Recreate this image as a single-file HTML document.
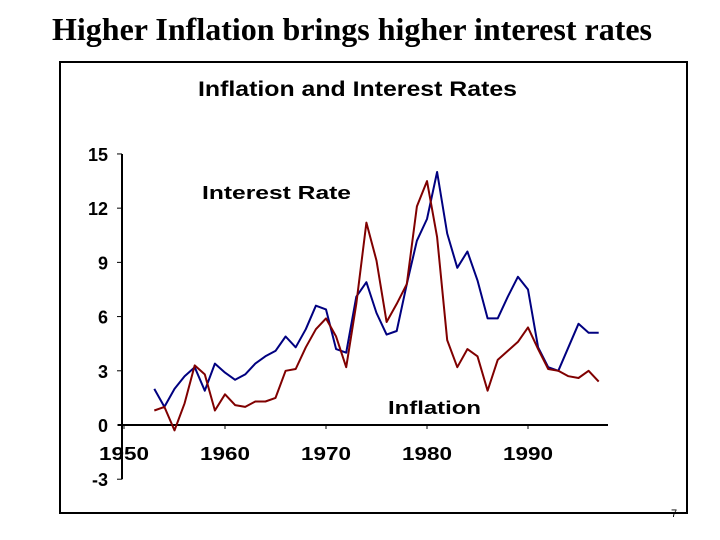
<!DOCTYPE html>
<html><head><meta charset="utf-8"><style>
html,body{margin:0;padding:0;background:#fff;}
body{width:720px;height:540px;position:relative;overflow:hidden;}
#title{position:absolute;left:0;width:704px;top:11px;text-align:center;font:bold 32px "Liberation Serif",serif;color:#000;}
#box{position:absolute;left:59px;top:61px;width:629px;height:453px;border:2px solid #000;box-sizing:border-box;}
#pg{position:absolute;left:671px;top:508px;font:11px "Liberation Sans",sans-serif;}
svg{position:absolute;left:0;top:0;}
</style></head><body>
<div id="title">Higher Inflation brings higher interest rates</div>
<div id="box"></div>
<div id="pg">7</div>
<svg id="chart" width="720" height="540"></svg>
<script>
const years=[1953,1954,1955,1956,1957,1958,1959,1960,1961,1962,1963,1964,1965,1966,1967,1968,1969,1970,1971,1972,1973,1974,1975,1976,1977,1978,1979,1980,1981,1982,1983,1984,1985,1986,1987,1988,1989,1990,1991,1992,1993,1994,1995,1996,1997];
const interestRate=[2.0,1.0,2.0,2.7,3.2,1.9,3.4,2.9,2.5,2.8,3.4,3.8,4.1,4.9,4.3,5.3,6.6,6.4,4.2,4.0,7.1,7.9,6.2,5.0,5.2,7.8,10.2,11.4,14.0,10.6,8.7,9.6,8.0,5.9,5.9,7.1,8.2,7.5,4.3,3.2,3.0,4.3,5.6,5.1,5.1];
const inflation=[0.8,1.0,-0.3,1.2,3.3,2.8,0.8,1.7,1.1,1.0,1.3,1.3,1.5,3.0,3.1,4.3,5.3,5.9,4.9,3.2,6.7,11.2,9.1,5.7,6.7,7.8,12.1,13.5,10.4,4.7,3.2,4.2,3.8,1.9,3.6,4.1,4.6,5.4,4.2,3.1,3.0,2.7,2.6,3.0,2.4];
const yTicks=[15,12,9,6,3,0,-3];
const xTicks=[1950,1960,1970,1980,1990];
const NS="http://www.w3.org/2000/svg";
const svg=document.getElementById('chart');
const X=y=>124+(y-1950)*10.1;
const Y=v=>425-v*18.07;
function mk(t,a){const e=document.createElementNS(NS,t);for(const k in a)e.setAttribute(k,a[k]);svg.appendChild(e);return e;}
const F='"Liberation Sans",Arial,sans-serif';
let e;
e=mk('text',{x:198,y:96,textLength:319,lengthAdjust:'spacingAndGlyphs','font-family':F,'font-weight':'bold','font-size':21});e.textContent='Inflation and Interest Rates';


e=mk('line',{x1:122,y1:Y(15),x2:122,y2:Y(-3),stroke:'#000','stroke-width':2});


e=mk('line',{x1:118,y1:Y(0),x2:608,y2:Y(0),stroke:'#000','stroke-width':2});


yTicks.forEach(v=>{
  e=mk('line',{x1:117,y1:Y(v),x2:122,y2:Y(v),stroke:'#000','stroke-width':1});
  
  
  e=mk('text',{x:108,y:Y(v)+7,'text-anchor':'end','font-family':F,'font-weight':'bold','font-size':18});e.textContent=v;
  
  
});
xTicks.forEach(v=>{
  e=mk('line',{x1:X(v),y1:Y(0),x2:X(v),y2:Y(0)+4,stroke:'#000','stroke-width':1});
  
  
  e=mk('text',{x:X(v)-25,y:Y(0)+35,textLength:50,lengthAdjust:'spacingAndGlyphs','font-family':F,'font-weight':'bold','font-size':18});e.textContent=v;
  
  
});
function line(vals,col,name){
  const d=vals.map((v,i)=>(i?'L':'M')+X(years[i]).toFixed(1)+','+Y(v).toFixed(1)).join(' ');
  const p=mk('path',{d:d,fill:'none',stroke:col,'stroke-width':2,'stroke-linejoin':'round'});
  
  
}
line(interestRate,'#000080','interest-rate-line');
line(inflation,'#800000','inflation-line');
e=mk('text',{x:202,y:199,textLength:149,lengthAdjust:'spacingAndGlyphs','font-family':F,'font-weight':'bold','font-size':18});e.textContent='Interest Rate';


e=mk('text',{x:388,y:414,textLength:93,lengthAdjust:'spacingAndGlyphs','font-family':F,'font-weight':'bold','font-size':18});e.textContent='Inflation';


</script>
</body></html>
